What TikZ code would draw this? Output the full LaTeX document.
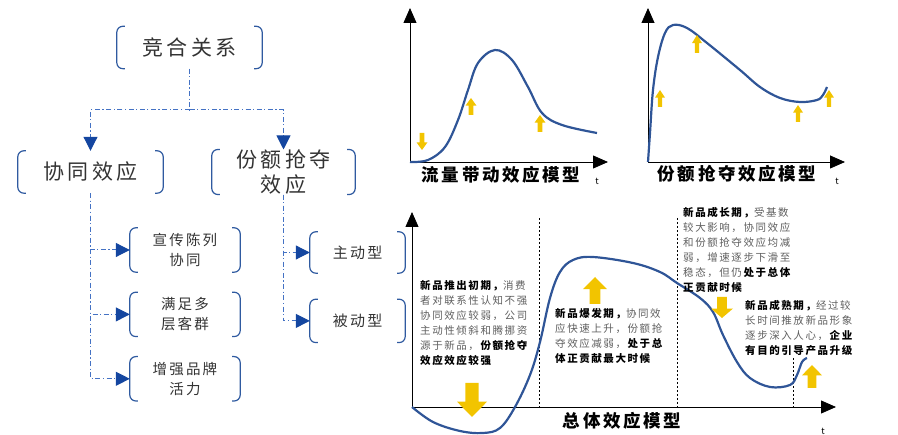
\documentclass[tikz,border=0pt]{standalone}
\usepackage{fontspec}
\setmainfont{Noto Sans CJK SC}[LetterSpace=15]
\usetikzlibrary{arrows.meta,positioning}

\definecolor{brkblue}{RGB}{47,90,160}
\definecolor{lnblue}{RGB}{68,114,196}
\definecolor{tipblue}{RGB}{20,70,160}
\definecolor{crvblue}{RGB}{47,85,151}
\definecolor{gold}{RGB}{242,196,0}
\definecolor{txtgray}{RGB}{95,95,95}
\newcommand{\emtxt}[1]{\textbf{\color{black}#1}}

\begin{document}
\begin{tikzpicture}[x=1pt,y=-1pt,
    box/.style={minimum width=145pt,minimum height=42pt,inner sep=0pt,align=center,
                text=black!80,font=\fontsize{21}{25}\selectfont},
    subbox/.style={box,minimum width=110pt,minimum height=44pt,font=\fontsize{14.5}{20}\selectfont},
    brk/.style={draw=brkblue,line width=1.2pt,rounded corners=6pt},
    conn/.style={draw=lnblue,line width=1pt,dash pattern=on 5pt off 2.5pt on 1.2pt off 2.5pt},
    tip/.style={-{Triangle[length=14pt,width=14pt,color=tipblue]}},
    axis/.style={draw=black,line width=0.8pt,-{Triangle[length=15pt,width=13pt]}},
    curve/.style={draw=crvblue,line width=2.2pt},
    vline/.style={draw=black,line width=0.6pt,dash pattern=on 2pt off 2pt},
    note/.style={anchor=north west,inner sep=0pt,align=left,text=txtgray,
                 font=\fontsize{10.5}{15}\selectfont},
    ttl/.style={inner sep=0pt,font=\fontsize{17.5}{20}\selectfont\bfseries},
    tlbl/.style={inner sep=0pt,font=\fontsize{9}{10}\selectfont}]
  \useasboundingbox (0,0) rectangle (898,435);

  % left tree
  \node[box] (jh) at (189.5,47.5) {竞合关系};
  \node[box] (xt) at (90.5,172) {协同效应};
  \node[box,minimum width=143pt] (fe) at (283.5,172) {份额抢夺\\效应};
  \node[subbox] (xc) at (185,250) {宣传陈列\\协同};
  \node[subbox,below=20pt of xc] (mz) {满足多\\层客群};
  \node[subbox,below=20pt of mz] (zq) {增强品牌\\活力};
  \node[subbox,minimum width=95pt,minimum height=41pt,font=\fontsize{15}{20}\selectfont] (zd) at (357.5,252.5) {主动型};
  \node[subbox,minimum width=95pt,minimum height=43pt,font=\fontsize{15}{20}\selectfont,below=26pt of zd] (bd) {被动型};

  \foreach \n in {jh,xt,fe,xc,mz,zq,zd,bd}
    \draw[brk] ([xshift=8pt]\n.north west) -- (\n.north west) -- (\n.south west) -- ([xshift=8pt]\n.south west)
               ([xshift=-8pt]\n.north east) -- (\n.north east) -- (\n.south east) -- ([xshift=-8pt]\n.south east);

  \coordinate (jhm) at (189.5,110);
  \draw[conn] (jh.south) -- (jhm);
  \draw[conn,tip] (jhm) -| (xt.north);
  \draw[conn,tip] (jhm) -| (fe.north);
  \draw[conn,tip] (xt.south) |- (xc.west);
  \draw[conn,tip] (xt.south) |- (mz.west);
  \draw[conn,tip] (xt.south) |- (zq.west);
  \draw[conn,tip] (fe.south) |- (zd.west);
  \draw[conn,tip] (fe.south) |- (bd.west);

  % chart 1
  \draw[axis] (410,162) -- (410,8);
  \draw[axis] (410,162) -- (608,162);
  \draw[curve] plot[smooth,tension=0.6] coordinates {(410,162) (428,160) (445,147) (458,120) (468,90)
    (478,63) (495,50) (512,60) (528,87) (542,113) (562,125) (597,133)};
  \node[ttl] (t1) at (501,175) {流量带动效应模型};
  \node[tlbl] (x1) at (597,181) {t};

  % chart 2
  \draw[axis] (648,162) -- (648,8);
  \draw[axis] (648,162) -- (845,162);
  \draw[curve] plot[smooth,tension=0.6] coordinates {(648,162) (650,133) (653,90) (658,57) (665,33)
    (673,25) (687,28) (707,43) (740,70) (760,87) (780,98) (800,102) (817,100) (823,95) (827,87)};
  \node[ttl] (t2) at (737,174) {份额抢夺效应模型};
  \node[tlbl] (x2) at (837,181) {t};

  % chart 3
  \draw[vline] (539,218) -- (539,407);
  \draw[vline] (677,218) -- (677,407);
  \draw[vline] (793,358) -- (793,407);
  \draw[axis] (412,407) -- (412,212);
  \draw[axis] (412,407) -- (836,407);
  \draw[curve] plot[smooth,tension=0.6] coordinates {(412,407) (433,422) (460,431) (483,433) (500,428)
    (515,407) (530,375) (540,342) (550,298) (560,272) (573,260) (593,257) (633,263) (660,272)
    (677,283) (700,298) (713,312) (723,335) (737,362) (750,378) (770,387) (790,385) (797,375)
    (802,362) (807,358)};
  \node[ttl] (t3) at (622,421) {总体效应模型};
  \node[tlbl] (x3) at (823,431) {t};

  % yellow arrows: x/y of tip, head width, length, up(1)/down(-1)
  \foreach \x/\y/\w/\l/\d in {422/150/11/17/-1, 471/98/11/17/1, 540/115/11/17/1,
      660/90/10/17/1, 697/35/10/18/1, 798/105/10/17/1, 829/90/10/17/1,
      472/417/30/34/-1, 595/277/24/27/1, 722/318/22/21/-1, 812/365/20/23/1}
    \fill[gold,shift={(\x,\y)},xscale=\w,yscale=\l,yscale=\d]
      (0,0) -- (0.5,0.45) -- (0.22,0.45) -- (0.22,1) -- (-0.22,1) -- (-0.22,0.45) -- (-0.5,0.45) -- cycle;

  % notes
  \node[note] (n1) at (420,280) {\emtxt{新品推出初期，}消费\\者对联系性认知不强\\协同效应较弱，公司\\
    主动性倾斜和腾挪资\\源于新品，\emtxt{份额抢夺}\\\emtxt{效应效应较强}};
  \node[note] (n2) at (555,308) {\emtxt{新品爆发期，}协同效\\应快速上升，份额抢\\夺效应减弱，\emtxt{处于总}\\
    \emtxt{体正贡献最大时候}};
  \node[note] (n3) at (683,207) {\emtxt{新品成长期，}受基数\\较大影响，协同效应\\和份额抢夺效应均减\\
    弱，增速逐步下滑至\\稳态，但仍\emtxt{处于总体}\\\emtxt{正贡献时候}};
  \node[note] (n4) at (745,300) {\emtxt{新品成熟期，}经过较\\长时间推放新品形象\\逐步深入人心，\emtxt{企业}\\
    \emtxt{有目的引导产品升级}};
\end{tikzpicture}
\end{document}
